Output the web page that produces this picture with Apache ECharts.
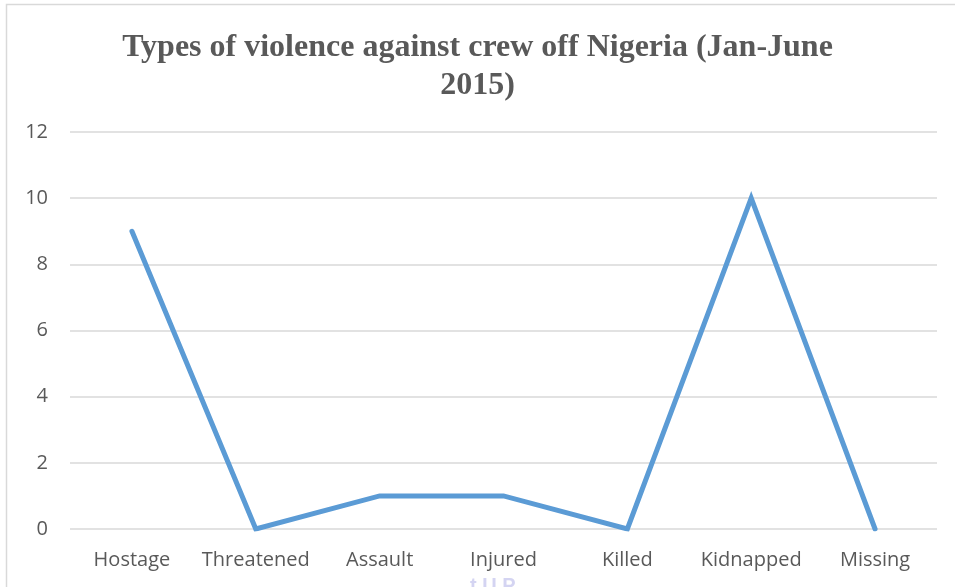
<!DOCTYPE html>
<html><head><meta charset="utf-8">
<script src="https://cdn.jsdelivr.net/npm/echarts@6/dist/echarts.min.js"></script>
<style>html,body{margin:0;padding:0;background:#fff}#c{width:955px;height:587px}</style>
</head><body><div id="c"></div>
<script>
const categories = ['Hostage','Threatened','Assault','Injured','Killed','Kidnapped','Missing'];
const values = [9, 0, 1, 1, 0, 10, 0];
const yTicks = {min: 0, max: 12, interval: 2};
const titleText = 'Types of violence against crew off Nigeria (Jan-June\n2015)';

const chart = echarts.init(document.getElementById('c'));
chart.setOption({
  animation: false,
  backgroundColor: '#fff',
  graphic: [
    {type: 'rect', shape: {x: 6.5, y: 4.5, width: 960, height: 600}, style: {fill: 'none', stroke: '#d9d9d9', lineWidth: 1.5}, silent: true},
    {type: 'text', left: 470, top: 576, style: {text: 't U P', fill: '#d4d4f2', font: 'bold 20px "Liberation Sans"'}, silent: true}
  ],
  title: {
    text: titleText,
    left: 'center',
    top: 24,
    textStyle: {fontFamily: '"Liberation Serif", serif', fontWeight: 'bold', fontSize: 32, color: '#595959', lineHeight: 38}
  },
  grid: {left: 70, right: 18, top: 132, bottom: 58},
  xAxis: {
    type: 'category',
    data: categories,
    boundaryGap: true,
    axisLine: {show: false},
    axisTick: {show: false},
    axisLabel: {interval: 0, fontFamily: '"Open Sans", sans-serif', fontSize: 20, color: '#595959', margin: 21}
  },
  yAxis: {
    type: 'value',
    min: yTicks.min, max: yTicks.max, interval: yTicks.interval,
    axisLine: {show: false},
    axisTick: {show: false},
    splitLine: {lineStyle: {color: '#d9d9d9', width: 1.5}},
    axisLabel: {fontFamily: '"Open Sans", sans-serif', fontSize: 20, color: '#595959', margin: 22}
  },
  series: [{
    type: 'line',
    data: values,
    symbol: 'none',
    lineStyle: {color: '#5b9bd5', width: 5, cap: 'round', join: 'miter'}
  }]
});
</script></body></html>
